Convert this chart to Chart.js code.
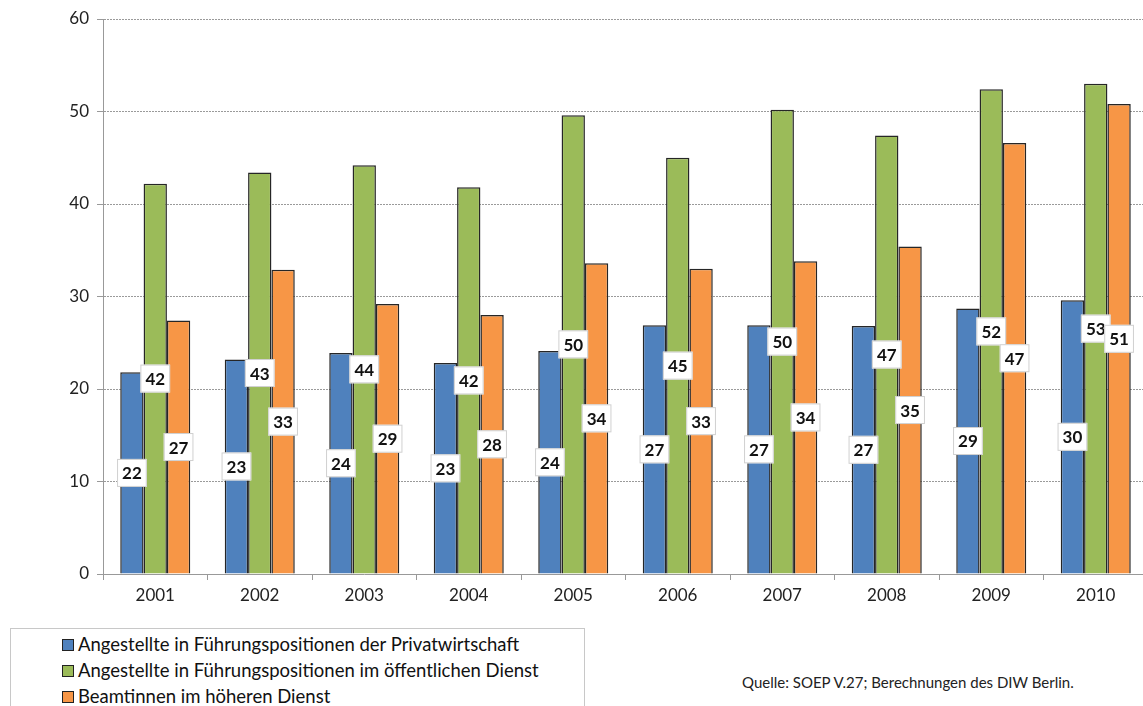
<!DOCTYPE html>
<html>
<head>
<meta charset="utf-8">
<script src="https://cdn.jsdelivr.net/npm/chart.js@4/dist/chart.umd.min.js"></script>
<style>
  html, body { margin: 0; padding: 0; background: #fff; overflow: hidden; width: 1143px; height: 706px; }
  #chart { position: absolute; left: 0; top: 0; }
  #legend {
    position: absolute; left: 10px; top: 628px; width: 575px; height: 90px;
    border: 1px solid #c8c8c8; box-sizing: border-box;
    font-family: Lato, "Open Sans", sans-serif; font-size: 18.5px; color: #111;
    padding: 2px 0 0 51px;
  }
  #legend div { height: 26px; line-height: 26px; white-space: nowrap; }
  #legend span.box {
    display: inline-block; width: 10px; height: 10px; border: 1px solid #222;
    margin-right: 4px; vertical-align: 0px;
  }
  #source {
    position: absolute; left: 742px; top: 673px;
    font-family: Lato, "Open Sans", sans-serif; font-size: 15px; color: #222;
  }
</style>
</head>
<body>
<canvas id="chart" width="1150" height="615"></canvas>
<div id="legend"></div>
<div id="source">Quelle: SOEP V.27; Berechnungen des DIW Berlin.</div>
<script>
const years = ['2001', '2002', '2003', '2004', '2005', '2006', '2007', '2008', '2009', '2010']
const privat = [21.8, 23.2, 23.9, 22.8, 24.1, 26.9, 26.9, 26.8, 28.7, 29.6]
const oeffentlich = [42.2, 43.4, 44.2, 41.8, 49.6, 45.0, 50.2, 47.4, 52.4, 53.0]
const beamtinnen = [27.4, 32.9, 29.2, 28.0, 33.6, 33.0, 33.8, 35.4, 46.6, 50.8]
const seriesNames = [
  'Angestellte in Führungspositionen der Privatwirtschaft',
  'Angestellte in Führungspositionen im öffentlichen Dienst',
  'Beamtinnen im höheren Dienst'
]
const colors = ['#4f81bd', '#9bbb59', '#f79646']

const font = 'Lato, "Open Sans", sans-serif'

// white boxes with the rounded value in the middle of each bar
const valueLabels = {
  id: 'valueLabels',
  afterDatasetsDraw(chart) {
    const ctx = chart.ctx
    ctx.save()
    ctx.font = 'bold 17px ' + font
    ctx.textAlign = 'center'
    ctx.textBaseline = 'middle'
    chart.data.datasets.forEach((ds, i) => {
      chart.getDatasetMeta(i).data.forEach((bar, j) => {
        const txt = String(Math.round(ds.data[j]))
        const cx = bar.x
        const cy = (bar.y + bar.base) / 2
        const w = ctx.measureText(txt).width + 10
        const h = 28
        ctx.fillStyle = '#fff'
        ctx.fillRect(cx - w / 2, cy - h / 2, w, h)
        ctx.strokeStyle = '#d0d0d0'
        ctx.lineWidth = 1
        ctx.strokeRect(cx - w / 2 + 0.5, cy - h / 2 + 0.5, w - 1, h - 1)
        ctx.fillStyle = '#111'
        ctx.fillText(txt, cx, cy + 1)
      })
    })
    ctx.restore()
  }
}

const chart = new Chart(document.getElementById('chart'), {
  type: 'bar',
  data: {
    labels: years,
    datasets: [privat, oeffentlich, beamtinnen].map((d, i) => ({
      label: seriesNames[i],
      data: d,
      backgroundColor: colors[i],
      borderColor: '#262626',
      borderWidth: 1.5,
      barPercentage: 1,
      categoryPercentage: 0.67
    }))
  },
  options: {
    responsive: false,
    animation: false,
    devicePixelRatio: 1,
    layout: { padding: { top: 19, right: 2, left: 0, bottom: 0 } },
    plugins: {
      legend: { display: false },
      tooltip: { enabled: false }
    },
    scales: {
      x: {
        grid: { drawOnChartArea: false, drawTicks: true, tickLength: 6, color: '#999' },
        border: { color: '#999', width: 1 },
        ticks: { color: '#222', font: { family: font, size: 17 }, padding: 5 },
        afterFit(scale) { scale.height = 41 }
      },
      y: {
        min: 0,
        max: 60,
        ticks: { stepSize: 10, color: '#222', font: { family: font, size: 17 }, padding: 8 },
        grid: { color: '#9a9a9a', tickLength: 6, tickBorderDash: [], tickColor: '#999' },
        border: { color: '#999', width: 1, dash: [2, 1] },
        afterFit(scale) { scale.width = 103 }
      }
    }
  },
  plugins: [valueLabels]
})

const legendEl = document.getElementById('legend')
seriesNames.forEach((name, i) => {
  legendEl.innerHTML += `<div><span class="box" style="background:${colors[i]}"></span>${name}</div>`
})
</script>
</body>
</html>
